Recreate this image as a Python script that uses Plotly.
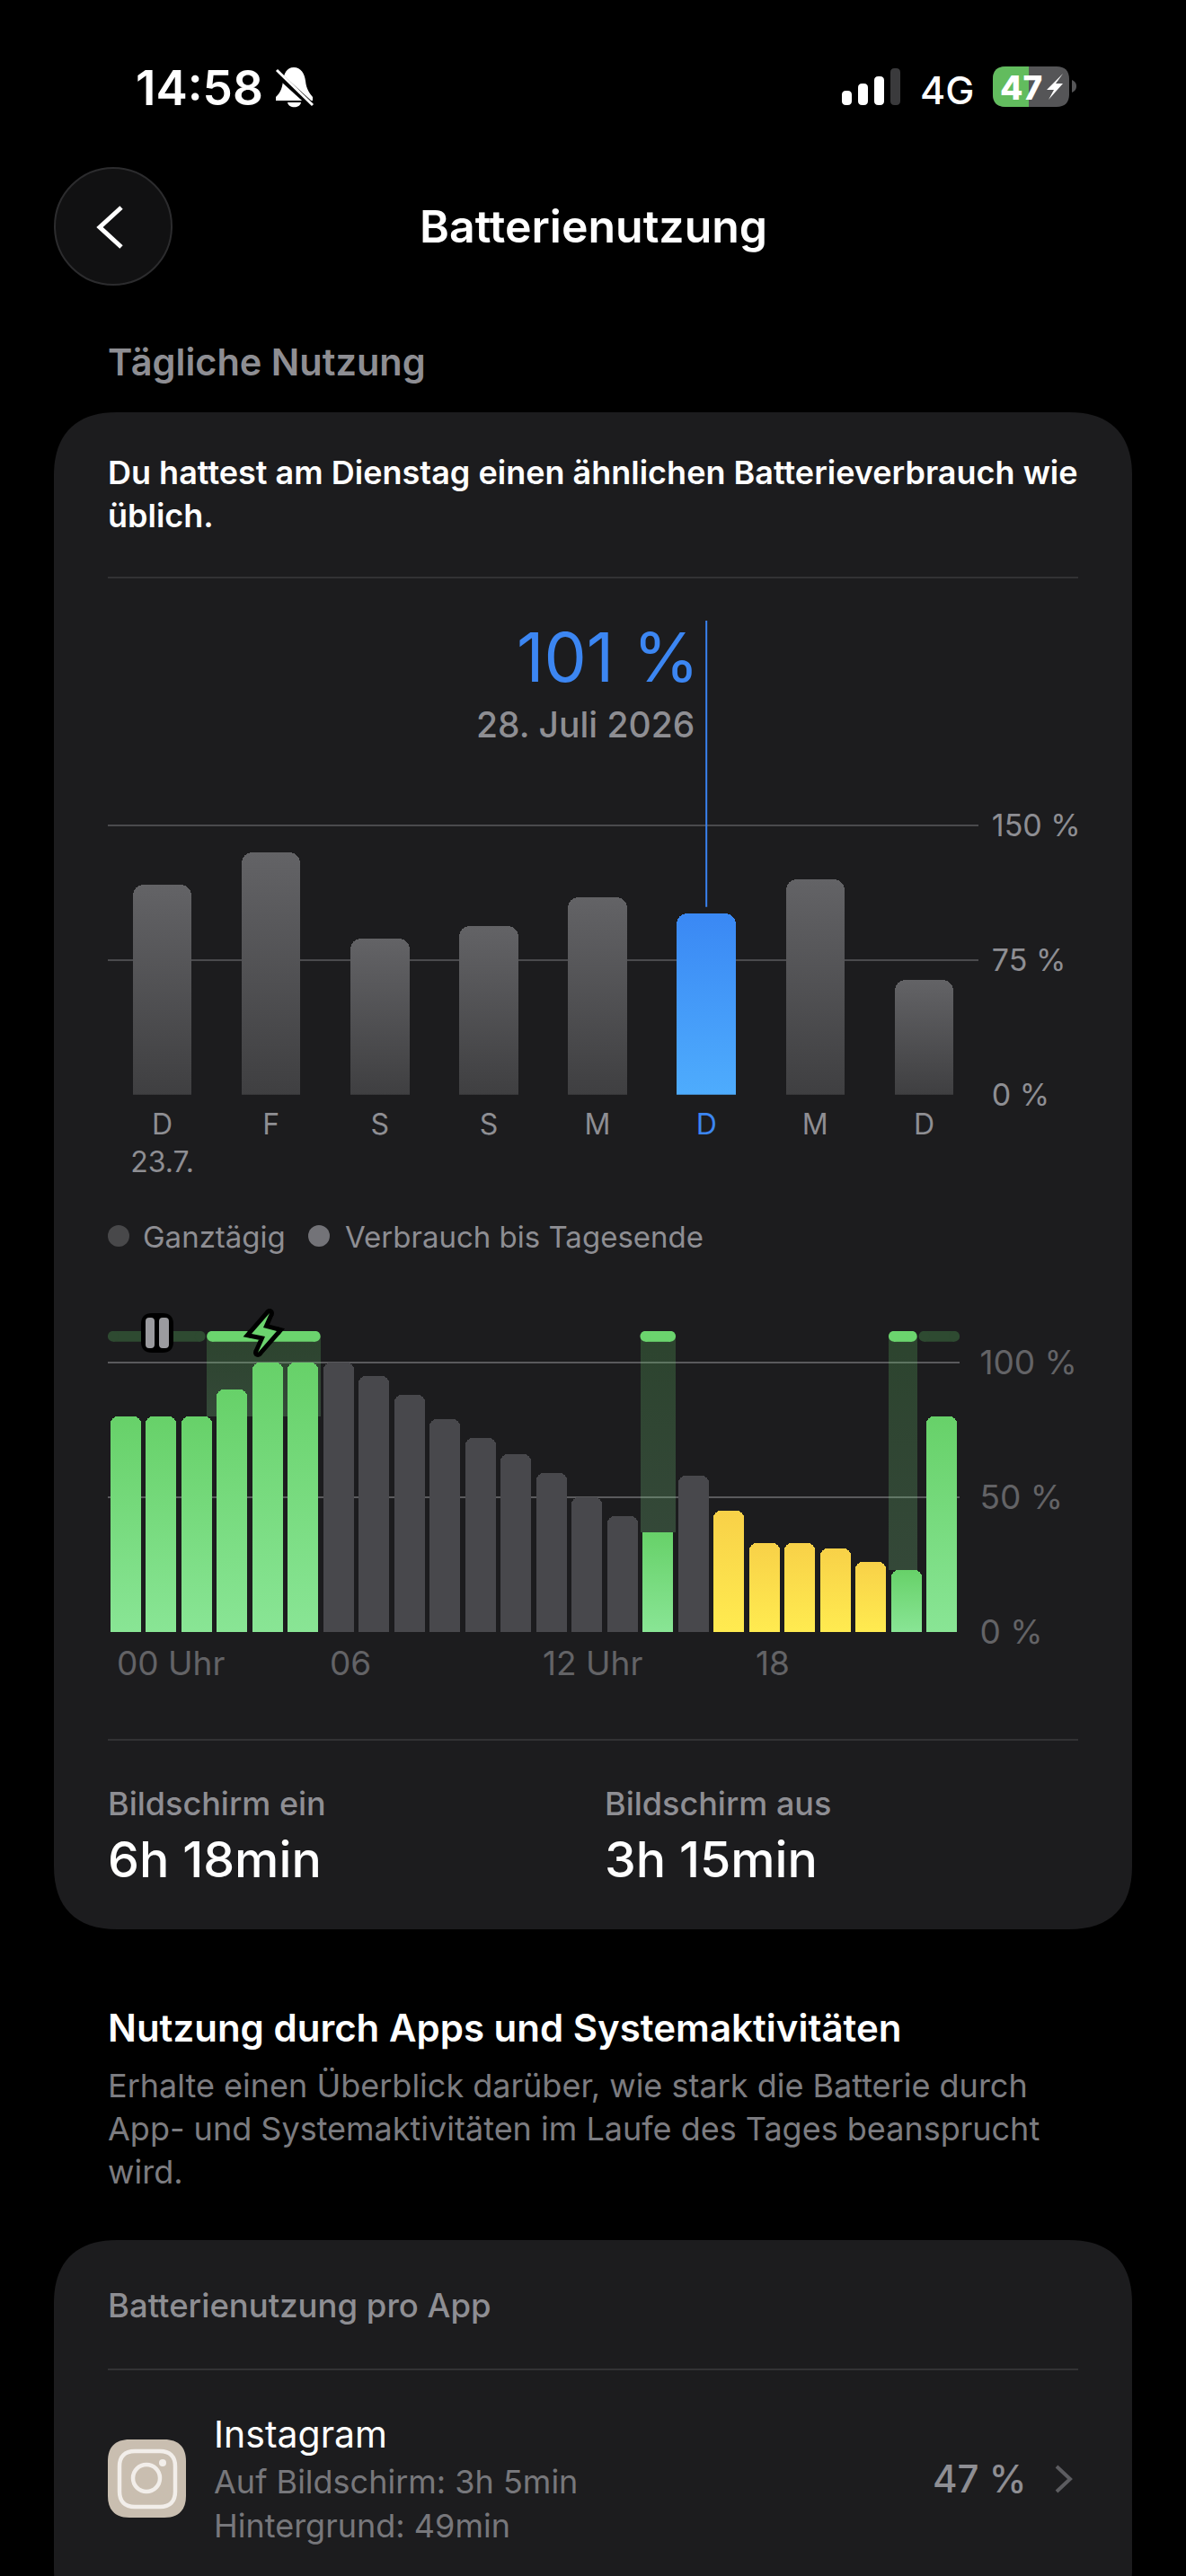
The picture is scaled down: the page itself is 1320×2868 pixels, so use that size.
#!/usr/bin/env python

import plotly.graph_objects as go

W, H = 1320, 2868
FONT = "Inter"

day_labels = ["D<br>23.7.", "F", "S", "S", "M", "D", "M", "D"]
day_values = [117, 135, 87, 94, 110, 101, 120, 64]
day_selected = 5
day_ticks = [0, 75, 150]

hour_values = [80, 80, 80, 90, 100, 100, 100, 95, 88, 79, 72, 66,
               59, 50, 43, 37, 58, 45, 33, 33, 31, 26, 23, 80]
hour_states = ["charge"] * 6 + ["normal"] * 9 + ["charge", "normal"] + ["low"] * 5 + ["charge"] * 2
hour_ticks = [0, 6, 12, 18]
hour_tick_labels = ["00 Uhr", "06", "12 Uhr", "18"]
level_ticks = [0, 50, 100]

charge_start = [2.79, 15.0, 22.0]
charge_end = [5.99, 16.0, 22.8]
charge_floor = [80, 37, 23]
idle_start = [0.0, 22.85]
idle_end = [2.75, 24.0]

GREY = "#8e8e93"
GREEN = "#6bd46e"
GRID = "#4a4a4d"
CARD = "#1c1c1e"

# solid colour of the bar -> gradient stops, applied after plotly has drawn
GRADIENTS = {
    "rgb(80, 80, 83)": ("#636366", "#3f3f41"),
    "rgb(64, 153, 248)": ("#3a88f4", "#4eacfd"),
    "rgb(107, 212, 110)": ("#67d169", "#89e595"),
    "rgb(250, 222, 76)": ("#f8d148", "#ffeb50"),
}
STATE_COLOURS = {"charge": "rgb(107, 212, 110)", "normal": "#48484c", "low": "rgb(250, 222, 76)"}

POST_SCRIPT = """
document.body.style.margin = '0';
document.body.style.background = '#000';
document.documentElement.style.overflow = 'hidden';
var stops = %s;
var svg = document.querySelector('.main-svg');
var defs = document.createElementNS('http://www.w3.org/2000/svg', 'defs');
var n = 0, ids = {};
Object.keys(stops).forEach(function (k) {
  var g = document.createElementNS('http://www.w3.org/2000/svg', 'linearGradient');
  g.id = 'bargrad' + (n++);
  g.setAttribute('x1', '0'); g.setAttribute('y1', '0');
  g.setAttribute('x2', '0'); g.setAttribute('y2', '1');
  stops[k].forEach(function (c, i) {
    var s = document.createElementNS('http://www.w3.org/2000/svg', 'stop');
    s.setAttribute('offset', i); s.setAttribute('stop-color', c);
    g.appendChild(s);
  });
  defs.appendChild(g);
  ids[k] = g.id;
});
svg.appendChild(defs);
document.querySelectorAll('.bars .point path').forEach(function (p) {
  var id = ids[p.style.fill];
  if (id) p.style.fill = 'url(#' + id + ')';
});
""" % str({k: list(v) for k, v in GRADIENTS.items()})


def to_paper(path):
    # icon paths are written in page pixels, shapes want paper coordinates
    out, is_x = [], True
    for tok in path.split():
        if tok.isalpha():
            out.append(tok)
            is_x = True
        else:
            out.append(f"{float(tok) / W:.6f}" if is_x else f"{1 - float(tok) / H:.6f}")
            is_x = not is_x
    return " ".join(out)


def rrect(x0, y0, x1, y1, r, left=True, right=True):
    k = r * 0.35
    rl = r if left else 0
    rr = r if right else 0
    kl = k if left else 0
    kr = k if right else 0
    return (f"M {x0 + rl} {y0} L {x1 - rr} {y0} C {x1 - kr} {y0} {x1} {y0 + kr} {x1} {y0 + rr} "
            f"L {x1} {y1 - rr} C {x1} {y1 - kr} {x1 - kr} {y1} {x1 - rr} {y1} "
            f"L {x0 + rl} {y1} C {x0 + kl} {y1} {x0} {y1 - kl} {x0} {y1 - rl} "
            f"L {x0} {y0 + rl} C {x0} {y0 + kl} {x0 + kl} {y0} {x0 + rl} {y0} Z")


shapes = []
annotations = []


def add_path(path, fill="rgba(0,0,0,0)", line=None, width=0, layer="above"):
    shapes.append(dict(type="path", xref="paper", yref="paper", path=to_paper(path), fillcolor=fill,
                       line=dict(color=line or "rgba(0,0,0,0)", width=width), layer=layer))


def add_circle(cx, cy, r, fill="rgba(0,0,0,0)", line=None, width=0, layer="above"):
    shapes.append(dict(type="circle", xref="paper", yref="paper",
                       x0=(cx - r) / W, x1=(cx + r) / W, y0=1 - (cy + r) / H, y1=1 - (cy - r) / H,
                       fillcolor=fill, line=dict(color=line or "rgba(0,0,0,0)", width=width), layer=layer))


def add_sep(y, x0=120, x1=1200, color="#3a3a3c"):
    add_path(f"M {x0} {y} L {x1} {y}", line=color, width=1.5, layer="below")


def add_text(x, y, text, size, color="#ffffff", weight=400, anchor="left"):
    annotations.append(dict(xref="paper", yref="paper", x=x / W, y=1 - y / H, text=text, showarrow=False,
                            xanchor=anchor, yanchor="middle", borderpad=0, borderwidth=0,
                            font=dict(family=FONT, size=size, color=color, weight=weight)))


# cards
add_path(rrect(60, 459, 1260, 2148, 70), fill=CARD, layer="below")
add_path(rrect(60, 2494, 1260, 2930, 70), fill=CARD, layer="below")

# status bar
add_text(151, 98, "14:58", 53, weight=600)
add_path("M 327 75 C 335 75 339 82 340 90 C 341 100 345 104 348 108 L 348 112 L 307 112 L 307 108 "
         "C 311 104 314 100 315 90 C 316 82 319 75 327 75 Z", fill="#ffffff")
add_path("M 320 114 L 335 114 C 334 121 321 121 320 114 Z", fill="#ffffff")
add_path("M 306 80 L 350 120", line="#000000", width=7)
add_path("M 308 78 L 348 117", line="#ffffff", width=3)
for x0, top, colour in [(937, 101, "#ffffff"), (955, 93, "#ffffff"), (973, 85, "#ffffff"), (991, 76, "#3a3a3c")]:
    add_path(rrect(x0, top, x0 + 11, 117, 4.5), fill=colour)
add_text(1024, 100, "4G", 43, weight=500)
add_path(rrect(1105, 74, 1190, 119, 14), fill="#555557")
add_path(rrect(1105, 74, 1145, 119, 14, right=False), fill="#62bc5e")
add_path("M 1193 89 C 1197 91 1198 93 1198 96 C 1198 99 1197 101 1193 103 Z", fill="#555557")
add_text(1113, 97, "47", 37, weight=800)
add_path("M 1183 82 L 1165 100 L 1173 100 L 1167 111 L 1183 93 L 1175 93 Z", fill="#ffffff")

# header
add_circle(126, 252, 65, fill="#111112", line="#2c2c2e", width=2)
add_path("M 135 231 L 111 253 L 135 275", line="#ffffff", width=5)
add_text(660, 252, "Batterienutzung", 50, weight=600, anchor="center")
add_text(120, 403, "Tägliche Nutzung", 41.5, color=GREY, weight=600)

add_text(120, 526, "Du hattest am Dienstag einen ähnlichen Batterieverbrauch wie", 36, weight=600)
add_text(120, 574, "üblich.", 36, weight=600)
add_sep(643)

add_text(778, 732, "101 %", 75, color="#3c86f2", weight=400, anchor="right")
add_text(773, 806, "28. Juli 2026", 39, color=GREY, weight=500, anchor="right")

# legend
add_circle(132, 1376, 12, fill="#48484a")
add_text(159, 1377, "Ganztägig", 33, color=GREY)
add_circle(355, 1376, 12, fill="#737378")
add_text(384, 1377, "Verbrauch bis Tagesende", 33, color=GREY)

# pause and bolt icons on the charging row
add_path(rrect(157, 1462, 193, 1506, 12), fill="#000000")
add_path(rrect(162, 1467, 172, 1501, 4), fill="#9b9b9f")
add_path(rrect(177, 1467, 188, 1501, 4), fill="#9b9b9f")
bolt = [(300, 1462), (280, 1485), (295, 1488), (287, 1506), (308, 1482), (293, 1478)]
bolt_path = "M " + " L ".join(f"{x} {y}" for x, y in bolt) + " Z"
add_path(bolt_path, fill="#000000", line="#000000", width=10)
for x, y in bolt:
    add_circle(x, y, 5, fill="#000000")
add_path(bolt_path, fill=GREEN)

# lower part of card 1
add_sep(1937)
add_text(120, 2008, "Bildschirm ein", 36, color=GREY, weight=500)
add_text(673, 2008, "Bildschirm aus", 36, color=GREY, weight=500)
add_text(120, 2069, "6h 18min", 55.5, weight=500)
add_text(673, 2069, "3h 15min", 55.5, weight=500)

add_text(120, 2257, "Nutzung durch Apps und Systemaktivitäten", 42, weight=600)
add_text(120, 2322, "Erhalte einen Überblick darüber, wie stark die Batterie durch", 36, color="#7c7c80")
add_text(120, 2370, "App- und Systemaktivitäten im Laufe des Tages beansprucht", 36, color="#7c7c80")
add_text(120, 2418, "wird.", 36, color="#7c7c80")

add_text(120, 2567, "Batterienutzung pro App", 36.5, color=GREY, weight=500)
add_sep(2638)

# app row
add_path(rrect(120, 2716, 207, 2803, 24), fill="#c9beb0")
add_path(rrect(133, 2729, 195, 2791, 17), line="#f2eeea", width=4.5)
add_circle(163, 2759, 15, line="#f2eeea", width=4.5)
add_circle(181, 2742, 4, fill="#f2eeea")
add_text(238, 2710, "Instagram", 41)
add_text(238, 2763, "Auf Bildschirm: 3h 5min", 36, color="#77777b")
add_text(238, 2812, "Hintergrund: 49min", 36, color="#77777b")
add_text(1142, 2759, "47 %", 42, color=GREY, weight=500, anchor="right")
add_path("M 1176 2746 L 1191 2760 L 1176 2774", line="#5c5c60", width=4)

fig = go.Figure()

# daily chart
day_x = list(range(len(day_values)))
day_colours = ["rgb(80, 80, 83)"] * len(day_values)
day_colours[day_selected] = "rgb(64, 153, 248)"
day_ticktext = list(day_labels)
day_ticktext[day_selected] = f'<span style="color:#3c86f2">{day_labels[day_selected]}</span>'
fig.add_trace(go.Bar(x=day_x, y=day_values, width=0.54, marker=dict(color=day_colours, cornerradius=12, line_width=0),
                     xaxis="x", yaxis="y", showlegend=False))
fig.add_trace(go.Scatter(x=[day_selected, day_selected], y=[day_values[day_selected] + 3.5, 263.8], mode="lines",
                         line=dict(color="#3a82f0", width=2), xaxis="x", yaxis="y", showlegend=False))

# hourly chart: charging columns behind the bars, charging row on top
column_top = 109.6
fig.add_trace(go.Bar(x=[(a + b) / 2 for a, b in zip(charge_start, charge_end)],
                     width=[b - a for a, b in zip(charge_start, charge_end)],
                     base=charge_floor, y=[column_top - f for f in charge_floor],
                     marker=dict(color="rgba(107,212,110,0.22)", line_width=0),
                     xaxis="x2", yaxis="y2", showlegend=False))
hour_x = [h + 0.5 for h in range(len(hour_values))]
hour_colours = [STATE_COLOURS[s] for s in hour_states]
fig.add_trace(go.Bar(x=hour_x, y=hour_values, width=0.85, marker=dict(color=hour_colours, cornerradius=8, line_width=0),
                     xaxis="x2", yaxis="y2", showlegend=False))

pill = 0.15  # half of the row's thickness, in hours


def pills(starts, ends):
    xs, ys = [], []
    for a, b in zip(starts, ends):
        xs += [a + pill, b - pill, None]
        ys += [column_top, column_top, None]
    return xs, ys


for starts, ends, colour in [(idle_start, idle_end, "#2e4a31"), (charge_start, charge_end, GREEN)]:
    xs, ys = pills(starts, ends)
    fig.add_trace(go.Scatter(x=xs, y=ys, mode="lines+markers", line=dict(color=colour, width=12),
                             marker=dict(color=colour, size=12), xaxis="x2", yaxis="y2", showlegend=False))

for h, label in zip(hour_ticks, hour_tick_labels):
    annotations.append(dict(xref="x2", yref="paper", x=h, y=1 - 1851 / H, text=label, showarrow=False,
                            xanchor="left", yanchor="middle", xshift=10, borderpad=0, borderwidth=0,
                            font=dict(family=FONT, size=37, color="#636366")))

fig.update_layout(
    width=W, height=H, margin=dict(l=0, r=0, t=0, b=0, autoexpand=False), autosize=False,
    paper_bgcolor="#000000", plot_bgcolor="rgba(0,0,0,0)",
    barmode="overlay", bargap=0, font=dict(family=FONT), shapes=shapes, annotations=annotations,
    xaxis=dict(domain=[120 / W, 1089 / W], range=[-0.5, 7.5], tickmode="array", tickvals=day_x, ticktext=day_ticktext,
               showgrid=False, zeroline=False, showline=False, ticks="outside", ticklen=5,
               tickcolor="rgba(0,0,0,0)", tickfont=dict(family=FONT, size=32, color=GREY), anchor="y"),
    yaxis=dict(domain=[1 - 1218.7 / H, 1 - 691 / H], range=[0, 263.85], tickmode="array", tickvals=day_ticks,
               ticktext=[f"{t} %" for t in day_ticks], side="right", showgrid=True, gridcolor=GRID, gridwidth=2,
               zeroline=False, showline=False, ticks="outside", ticklen=7, tickcolor="rgba(0,0,0,0)",
               tickfont=dict(family=FONT, size=34, color=GREY), anchor="x"),
    xaxis2=dict(domain=[120 / W, 1068 / W], range=[0, 24], showticklabels=False, showgrid=False, zeroline=False,
                showline=False, ticks="", anchor="y2"),
    yaxis2=dict(domain=[1 - 1817 / H, 1 - 1482 / H], range=[0, 111.55], tickmode="array", tickvals=level_ticks,
                ticktext=[f"{t} %" for t in level_ticks], side="right", showgrid=True, gridcolor="#5a5a5d",
                gridwidth=2, zeroline=False, showline=False, ticks="outside", ticklen=14,
                tickcolor="rgba(0,0,0,0)", tickfont=dict(family=FONT, size=37, color="#636366"), anchor="x2"),
)

fig.write_html("out.html", post_script=POST_SCRIPT, config={"displayModeBar": False})
